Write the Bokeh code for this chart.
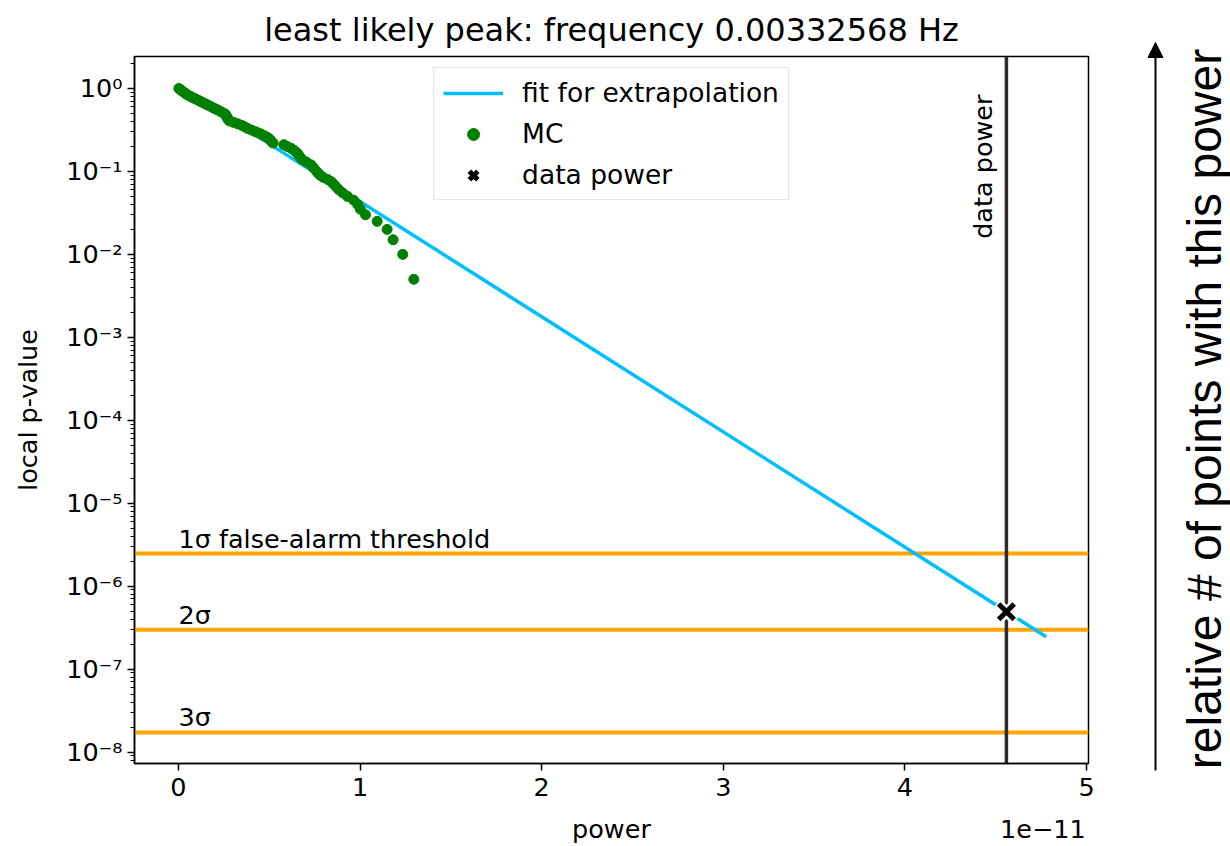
import numpy as np
from bokeh.plotting import figure
from bokeh.models import (Range1d, Span, Label, Legend, LegendItem, FixedTicker,
                          CustomJSTickFormatter, Arrow, NormalHead, LinearAxis)
from bokeh.core.properties import value
from bokeh.layouts import row, column
from bokeh.embed import file_html
from bokeh.resources import INLINE

# ---------------- data ----------------
POWER_UNIT = 1e-11  # x values below are in units of 1e-11

mc_power = [1.296, 1.235, 1.182, 1.149, 1.094, 1.030, 1.002, 0.987, 0.965, 0.931,
            0.905, 0.884, 0.869, 0.855, 0.842, 0.822, 0.796, 0.780, 0.770, 0.761,
            0.745, 0.730, 0.704, 0.679, 0.669, 0.660, 0.649, 0.636, 0.620, 0.599,
            0.580, 0.521, 0.513, 0.506, 0.498, 0.486, 0.472, 0.457, 0.442, 0.425,
            0.402, 0.381, 0.364, 0.348, 0.326, 0.304, 0.281, 0.274, 0.271, 0.268,
            0.264, 0.261, 0.255, 0.241, 0.227, 0.213, 0.198, 0.185, 0.172, 0.159,
            0.147, 0.135, 0.123, 0.112, 0.101, 0.087, 0.074, 0.063, 0.050, 0.042,
            0.033, 0.024, 0.015, 0.009, 0.002]
mc_pvalue = [0.005, 0.010, 0.015, 0.020, 0.025, 0.030, 0.035, 0.040, 0.045, 0.050,
             0.055, 0.060, 0.065, 0.070, 0.075, 0.080, 0.085, 0.090, 0.095, 0.100,
             0.110, 0.120, 0.130, 0.140, 0.150, 0.160, 0.170, 0.180, 0.190, 0.200,
             0.210, 0.220, 0.230, 0.240, 0.250, 0.260, 0.270, 0.280, 0.290, 0.300,
             0.315, 0.330, 0.345, 0.360, 0.375, 0.390, 0.405, 0.420, 0.435, 0.450,
             0.465, 0.480, 0.495, 0.515, 0.535, 0.555, 0.575, 0.595, 0.615, 0.635,
             0.655, 0.675, 0.695, 0.715, 0.735, 0.760, 0.785, 0.810, 0.835, 0.860,
             0.890, 0.920, 0.950, 0.975, 1.000]

fit_power = [0.45, 4.778]
fit_pvalue = [0.252, 2.45e-7]

data_power = 4.559
data_pvalue = 4.9e-7

sigma_labels = ["1σ false-alarm threshold", "2σ", "3σ"]
sigma_pvalues = [2.47e-6, 2.98e-7, 1.72e-8]

x_tick_values = [0, 1, 2, 3, 4, 5]
y_tick_exponents = [-8, -7, -6, -5, -4, -3, -2, -1, 0]

title_text = "least likely peak: frequency 0.00332568 Hz"
x_label = "power"
y_label = "local p-value"
offset_label = "1e\u221211"
side_label = "relative # of points with this power"

# ---------------- figure ----------------
FONT = "DejaVu Sans"
FS = "25.5px"
U = POWER_UNIT
X_MIN, X_MAX = -0.242, 5.011

p = figure(width=1110, height=846, y_axis_type="log",
           x_range=Range1d(X_MIN * U, X_MAX * U), y_range=Range1d(7.27e-9, 2.43),
           output_backend="svg", toolbar_location=None,
           min_border_left=134, min_border_right=22, min_border_top=55, min_border_bottom=83,
           title=title_text)
p.background_fill_color = "white"
p.border_fill_color = "white"
p.outline_line_color = "black"
p.outline_line_width = 1.5
p.xgrid.visible = False
p.ygrid.visible = False

p.title.text_font = FONT
p.title.text_font_size = "32px"
p.title.text_font_style = "normal"
p.title.text_color = "black"
p.title.align = "center"
p.title.standoff = 16


def style_axis(ax):
    ax.axis_line_width = 1.5
    ax.axis_line_color = "black"
    ax.major_tick_line_width = 1.5
    ax.major_tick_line_color = "black"
    ax.major_tick_out = 7
    ax.major_tick_in = 0
    ax.minor_tick_out = 4
    ax.minor_tick_in = 0
    ax.minor_tick_line_width = 1.2
    ax.minor_tick_line_color = "black"
    ax.major_label_text_font = FONT
    ax.major_label_text_font_size = FS
    ax.major_label_text_color = "black"
    ax.axis_label_text_font = FONT
    ax.axis_label_text_font_size = FS
    ax.axis_label_text_font_style = "normal"
    ax.axis_label_text_color = "black"


style_axis(p.xaxis[0])
style_axis(p.yaxis[0])

p.xaxis.ticker = FixedTicker(ticks=[t * U for t in x_tick_values], minor_ticks=[])
p.xaxis.formatter = CustomJSTickFormatter(code="return (tick/1e-11).toFixed(0);")
p.xaxis.major_label_standoff = 7

# second (label-only) axis below: carries the axis title and the offset text
lab_axis = LinearAxis()
style_axis(lab_axis)
lab_axis.axis_line_color = None
lab_axis.major_tick_line_color = None
lab_axis.minor_tick_line_color = None
lab_axis.major_tick_out = 0
lab_axis.minor_tick_out = 0
lab_axis.major_label_standoff = 15
label_pos_power = (X_MIN + X_MAX) / 2          # centred under the frame
label_pos_offset = 4.76                        # right end of the axis
lab_axis.ticker = FixedTicker(ticks=[label_pos_power * U, label_pos_offset * U], minor_ticks=[])
lab_axis.formatter = CustomJSTickFormatter(
    args=dict(a=x_label, b=offset_label),
    code="return tick < 3.5e-11 ? a : b;")
p.add_layout(lab_axis, "below")

p.yaxis.axis_label = y_label
p.yaxis.ticker = FixedTicker(
    ticks=[10.0 ** e for e in y_tick_exponents],
    minor_ticks=[k * 10.0 ** e for e in range(-9, 1) for k in range(2, 10)])
p.yaxis.formatter = CustomJSTickFormatter(code="""
const sup = {'-':'\u207b','0':'\u2070','1':'\u00b9','2':'\u00b2','3':'\u00b3','4':'\u2074',
             '5':'\u2075','6':'\u2076','7':'\u2077','8':'\u2078','9':'\u2079'};
const e = Math.round(Math.log10(tick)).toString();
return '10' + e.split('').map(c => sup[c]).join('');
""")
p.yaxis.major_label_standoff = 5
p.yaxis.axis_label_standoff = 20

# threshold lines and labels
for lab, pv in zip(sigma_labels, sigma_pvalues):
    p.add_layout(Span(location=pv, dimension="width", line_color="orange",
                      line_width=4, level="underlay"))
    p.add_layout(Label(x=0, y=pv, text=lab, text_baseline="bottom", text_align="left",
                       text_font=FONT, text_font_size=FS, text_color="black"))

# data power vertical line + label
p.add_layout(Span(location=data_power * U, dimension="height", line_color="#2b2b2b",
                  line_width=3.5, level="underlay"))
p.add_layout(Label(x=data_power * U, y=1.0, text="data power", angle=np.pi / 2,
                   text_align="right", text_baseline="bottom", x_offset=-8, y_offset=-6,
                   text_font=FONT, text_font_size=FS, text_color="black"))

# glyphs
fit_r = p.line([v * U for v in fit_power], fit_pvalue, line_color="#00bfff", line_width=3.5)
mc_r = p.scatter([v * U for v in mc_power], mc_pvalue, marker="circle", size=10,
                 fill_color="green", line_color="green")
p.scatter([data_power * U], [data_pvalue], marker="x", size=25, line_color="white",
          line_width=10)
x_r = p.scatter([data_power * U], [data_pvalue], marker="x", size=22, line_color="black",
                line_width=5)

legend = Legend(items=[LegendItem(label="fit for extrapolation", renderers=[fit_r]),
                       LegendItem(label="MC", renderers=[mc_r]),
                       LegendItem(label="data power", renderers=[x_r])],
                location="top_center")
legend.label_text_font = FONT
legend.label_text_font_size = "26.5px"
legend.label_text_color = "black"
legend.glyph_width = 60
legend.glyph_height = 30
legend.label_height = 30
legend.label_standoff = 19
legend.spacing = 10
legend.padding = 9
legend.margin = 11
legend.border_line_color = "#cccccc"
legend.border_line_width = 1.5
legend.background_fill_alpha = 0.8
p.add_layout(legend)

# ---------------- side panel ----------------
s = figure(width=120, height=846, x_range=Range1d(0, 120), y_range=Range1d(0, 846),
           output_backend="svg", toolbar_location=None, min_border=0,
           x_axis_type=None, y_axis_type=None)
s.outline_line_color = None
s.background_fill_color = "white"
s.border_fill_color = "white"
s.grid.visible = False
s.add_layout(Arrow(end=NormalHead(size=15, fill_color="black", line_color="black"),
                   x_start=45, y_start=76, x_end=45, y_end=804,
                   line_width=2, line_color="black"))
s.text(x=[94], y=[437.5], text=[side_label], angle=np.pi / 2, text_align="center",
       text_baseline="middle", text_font=value("Liberation Sans"),
       text_font_size="48px", text_color="black")

layout = row(p, column(s))
open("out.html", "w").write(file_html(layout, INLINE, title="plot"))
